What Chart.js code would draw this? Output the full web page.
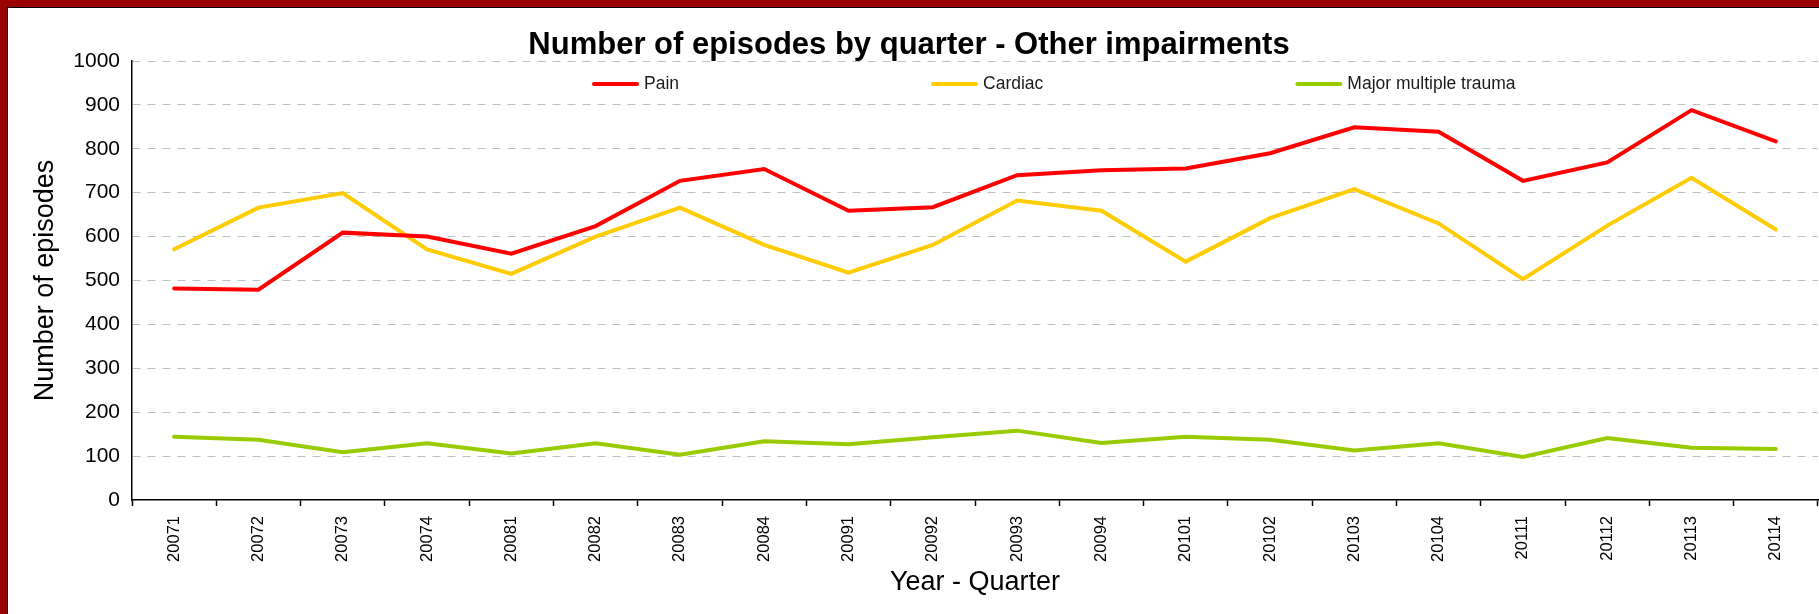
<!DOCTYPE html>
<html>
<head>
<meta charset="utf-8">
<title>Number of episodes by quarter - Other impairments</title>
<script src="https://cdn.jsdelivr.net/npm/chart.js@4/dist/chart.umd.min.js"></script>
<style>
  html, body { margin: 0; padding: 0; background: #fff; }
  #wrap { position: relative; width: 1819px; height: 614px; }
  canvas { display: block; }
</style>
</head>
<body>
<div id="wrap"><canvas id="chart" width="1819" height="614"></canvas></div>
<script>
// Year-quarter categories and episode counts per impairment group
const quarters = ['20071', '20072', '20073', '20074', '20081', '20082', '20083', '20084',
                  '20091', '20092', '20093', '20094', '20101', '20102', '20103', '20104',
                  '20111', '20112', '20113', '20114'];
const pain        = [482, 479, 609, 600, 561, 624, 727, 754, 659, 667, 740, 751, 755, 790, 849, 839, 727, 769, 888, 817];
const cardiac     = [571, 666, 699, 571, 515, 600, 666, 581, 518, 581, 682, 659, 543, 642, 708, 630, 503, 625, 734, 616];
const majorTrauma = [144, 137, 109, 129, 106, 129, 103, 134, 127, 143, 158, 130, 144, 137, 113, 129,  98, 141, 119, 116];

const seriesNames = ['Pain', 'Cardiac', 'Major multiple trauma'];
const yMin = 0, yMax = 1000, yStep = 100;

const SANS = '"Liberation Sans", Arial, sans-serif';

// Legend row drawn inside the plot, just below the title
const lineLegend = {
  id: 'lineLegend',
  afterDraw(chart, args, opts) {
    const ctx = chart.ctx;
    ctx.save();
    ctx.font = opts.fontSize + 'px ' + SANS;
    ctx.textBaseline = 'middle';
    ctx.textAlign = 'left';
    let x = opts.x;
    const y = opts.y;
    chart.data.datasets.forEach(ds => {
      ctx.strokeStyle = ds.borderColor;
      ctx.lineWidth = 4;
      ctx.lineCap = 'round';
      ctx.beginPath();
      ctx.moveTo(x + 2, y);
      ctx.lineTo(x + opts.sample - 2, y);
      ctx.stroke();
      x += opts.sample + opts.gapText;
      ctx.fillStyle = '#1a1a1a';
      ctx.fillText(ds.label, x, y);
      x += ctx.measureText(ds.label).width + opts.gapItem;
    });
    ctx.restore();
  }
};

// Dark red frame along the top and left edges
const frame = {
  id: 'frame',
  afterDraw(chart) {
    const ctx = chart.ctx;
    ctx.save();
    ctx.fillStyle = '#990000';
    ctx.fillRect(0, 0, chart.width, 7);
    ctx.fillRect(0, 0, 7, chart.height);
    ctx.fillStyle = '#000';
    ctx.fillRect(7, 7, chart.width - 7, 1);
    ctx.fillRect(7, 7, 1, chart.height - 7);
    ctx.restore();
  }
};

new Chart(document.getElementById('chart'), {
  type: 'line',
  data: {
    labels: quarters,
    datasets: [
      { label: seriesNames[0], data: pain,        borderColor: '#FF0000' },
      { label: seriesNames[1], data: cardiac,     borderColor: '#FFCC00' },
      { label: seriesNames[2], data: majorTrauma, borderColor: '#99CC00' }
    ]
  },
  options: {
    responsive: false,
    animation: false,
    layout: { padding: { left: 0, right: 1, top: 0, bottom: 0 } },
    elements: {
      line: { borderWidth: 4, tension: 0, fill: false, borderCapStyle: 'round', borderJoinStyle: 'miter' },
      point: { radius: 0, hoverRadius: 0 }
    },
    plugins: {
      legend: { display: false },
      tooltip: { enabled: false },
      title: {
        display: true,
        text: 'Number of episodes by quarter - Other impairments',
        color: '#000',
        font: { family: SANS, size: 31, weight: 'bold', lineHeight: 1.0 },
        padding: { top: 30, bottom: 0 }
      },
      lineLegend: { x: 592, y: 84, sample: 47, gapText: 5, gapItem: 252, fontSize: 17.5 }
    },
    scales: {
      x: {
        type: 'category',
        offset: true,
        grid: {
          display: true,
          offset: true,
          drawOnChartArea: false,
          drawTicks: true,
          tickLength: 6,
          tickColor: '#000',
          tickWidth: 1.5
        },
        border: { display: true, color: '#000', width: 1.5 },
        ticks: {
          color: '#000',
          autoSkip: false,
          minRotation: 90,
          maxRotation: 90,
          padding: 10,
          font: { family: SANS, size: 16.5 }
        },
        title: {
          display: true,
          text: 'Year - Quarter',
          color: '#000',
          font: { family: SANS, size: 27, lineHeight: 1.2 },
          padding: { top: 0, bottom: 15 }
        },
        afterFit(scale) { scale.height = 114; }
      },
      y: {
        min: yMin,
        max: yMax,
        ticks: {
          stepSize: yStep,
          color: '#000',
          padding: 12,
          font: { family: SANS, size: 21 },
          callback: v => String(v)
        },
        grid: {
          drawTicks: false,
          lineWidth: 1,
          color: ctx => (ctx.tick && ctx.tick.value === 0) ? 'rgba(0,0,0,0)' : '#BFBFBF'
        },
        border: { display: true, color: '#000', width: 1.5, dash: [8, 7] },
        title: {
          display: true,
          text: 'Number of episodes',
          color: '#000',
          font: { family: SANS, size: 27, lineHeight: 1.2 },
          padding: { top: 29, bottom: 0 }
        },
        afterFit(scale) { scale.width = 132; }
      }
    }
  },
  plugins: [lineLegend, frame]
});
</script>
</body>
</html>
